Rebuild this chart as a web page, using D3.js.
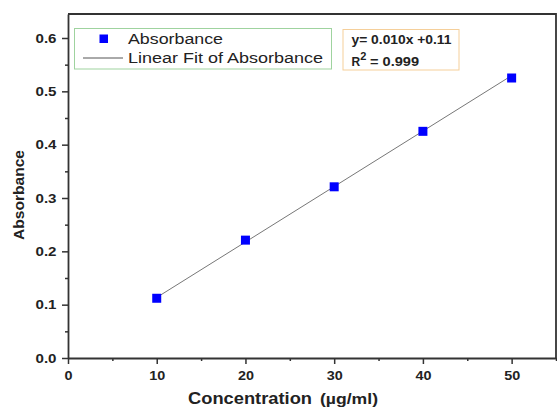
<!DOCTYPE html>
<html>
<head>
<meta charset="utf-8">
<script src="https://cdn.jsdelivr.net/npm/d3@7"></script>
<style>
  body { margin: 0; background: #fff; }
  svg { font-family: "Liberation Sans", Arial, sans-serif; }
</style>
</head>
<body>
<div id="chart-area"></div>
<script>
// data
var concentration = [10, 20, 30, 40, 50];
var absorbance = [0.112, 0.221, 0.321, 0.425, 0.525];
var xTicks = [0, 10, 20, 30, 40, 50];
var yTicks = [0.0, 0.1, 0.2, 0.3, 0.4, 0.5, 0.6];
var fitSlope = 0.0104;
var fitIntercept = 0.0095;

var margin = { top: 14, right: 1, bottom: 49, left: 68 };
var width = 557 - margin.left - margin.right;
var height = 407 - margin.top - margin.bottom;

var svg = d3.select('#chart-area')
  .append('svg')
  .attr('width', 557)
  .attr('height', 407);

var graph = svg.append('g')
  .attr('transform', 'translate(' + margin.left + ',' + margin.top + ')');

var x = d3.scaleLinear().domain([0, 55]).range([0, width]);
var y = d3.scaleLinear().domain([0, 0.645]).range([height, 0]);

// minor ticks
graph.append('g')
  .attr('transform', 'translate(0,' + height + ')')
  .call(d3.axisBottom(x).tickValues([5, 15, 25, 35, 45, 55]).tickSize(3).tickFormat(''))
  .call(g => g.select('.domain').remove());
graph.append('g')
  .call(d3.axisLeft(y).tickValues([0.05, 0.15, 0.25, 0.35, 0.45, 0.55]).tickSize(3).tickFormat(''))
  .call(g => g.select('.domain').remove());

// major axes
var xAxisGroup = graph.append('g')
  .attr('class', 'x-axis')
  .attr('transform', 'translate(0,' + height + ')')
  .call(d3.axisBottom(x).tickValues(xTicks).tickSize(6).tickSizeOuter(0).tickFormat(d3.format('d')));
var yAxisGroup = graph.append('g')
  .attr('class', 'y-axis')
  .call(d3.axisLeft(y).tickValues(yTicks).tickSize(6).tickSizeOuter(0).tickFormat(d3.format('.1f')));

graph.selectAll('.tick line').attr('stroke', '#333').attr('stroke-width', 1.5);
graph.selectAll('.domain').attr('stroke', '#333').attr('stroke-width', 1.8);
graph.selectAll('.tick text')
  .attr('font-size', '12.5px')
  .attr('font-weight', 'bold')
  .attr('fill', '#222')
  .attr('lengthAdjust', 'spacingAndGlyphs')
  .attr('font-family', '"Liberation Sans", Arial, sans-serif');
xAxisGroup.selectAll('.tick text')
  .attr('dy', '1.0em')
  .attr('textLength', function (d) { return d === 0 ? 8 : 16; });
yAxisGroup.selectAll('.tick text')
  .attr('dx', '-0.2em')
  .attr('textLength', 21);

// frame top and right
graph.append('path')
  .attr('d', 'M0,0H' + width + 'V' + height)
  .attr('fill', 'none')
  .attr('stroke', '#333')
  .attr('stroke-width', 1.8);

// fit line
graph.append('line')
  .attr('x1', x(concentration[0]))
  .attr('y1', y(fitSlope * concentration[0] + fitIntercept))
  .attr('x2', x(concentration[concentration.length - 1]))
  .attr('y2', y(fitSlope * concentration[concentration.length - 1] + fitIntercept))
  .attr('stroke', '#777')
  .attr('stroke-width', 1);

// points
graph.selectAll('rect.pt')
  .data(concentration)
  .enter()
  .append('rect')
  .attr('class', 'pt')
  .attr('x', function (d) { return x(d) - 4.5; })
  .attr('y', function (d, i) { return y(absorbance[i]) - 4.5; })
  .attr('width', 9)
  .attr('height', 9)
  .attr('fill', '#0000ff');

// legend
var legend = svg.append('g');
legend.append('rect')
  .attr('x', 74.5).attr('y', 28.5).attr('width', 257).attr('height', 40.5)
  .attr('fill', '#fff').attr('stroke', '#9fd39f').attr('stroke-width', 1);
legend.append('rect')
  .attr('x', 99.5).attr('y', 34.5).attr('width', 8.5).attr('height', 8.5)
  .attr('fill', '#0000ff');
legend.append('text')
  .attr('x', 128).attr('y', 44)
  .attr('font-size', '15.5px').attr('fill', '#222')
  .attr('textLength', 95).attr('lengthAdjust', 'spacingAndGlyphs')
  .text('Absorbance');
legend.append('line')
  .attr('x1', 83).attr('x2', 123).attr('y1', 58).attr('y2', 58)
  .attr('stroke', '#555').attr('stroke-width', 1);
legend.append('text')
  .attr('x', 128).attr('y', 63)
  .attr('font-size', '15.5px').attr('fill', '#222')
  .attr('textLength', 195).attr('lengthAdjust', 'spacingAndGlyphs')
  .text('Linear Fit of Absorbance');

// equation box
var eq = svg.append('g');
eq.append('rect')
  .attr('x', 343).attr('y', 29.5).attr('width', 116).attr('height', 40.5)
  .attr('fill', '#fff').attr('stroke', '#f5cf9a').attr('stroke-width', 1);
eq.append('text')
  .attr('x', 351.5).attr('y', 44)
  .attr('font-size', '12px').attr('font-weight', 'bold').attr('fill', '#222')
  .attr('textLength', 100).attr('lengthAdjust', 'spacingAndGlyphs')
  .text('y= 0.010x +0.11');
var r2 = eq.append('text')
  .attr('x', 351.5).attr('y', 66)
  .attr('font-size', '12px').attr('font-weight', 'bold').attr('fill', '#222');
r2.append('tspan').text('R');
r2.append('tspan').attr('dy', -6).attr('font-size', '11px').text('2');
r2.append('tspan').attr('dy', 6).attr('x', 370)
  .attr('textLength', 49).attr('lengthAdjust', 'spacingAndGlyphs')
  .text('= 0.999');

// axis labels
var xLabel = svg.append('text')
  .attr('x', 188).attr('y', 404)
  .attr('font-size', '17px').attr('font-weight', 'bold').attr('fill', '#222');
xLabel.append('tspan')
  .attr('textLength', 124).attr('lengthAdjust', 'spacingAndGlyphs')
  .text('Concentration');
xLabel.append('tspan')
  .attr('x', 320)
  .attr('font-size', '15px')
  .attr('textLength', 58).attr('lengthAdjust', 'spacingAndGlyphs')
  .text('(\u00b5g/ml)');
svg.append('text')
  .attr('transform', 'rotate(-90)')
  .attr('x', -195).attr('y', 24)
  .attr('text-anchor', 'middle')
  .attr('font-size', '14.5px').attr('font-weight', 'bold').attr('fill', '#222')
  .attr('textLength', 90).attr('lengthAdjust', 'spacingAndGlyphs')
  .text('Absorbance');
</script>
</body>
</html>
